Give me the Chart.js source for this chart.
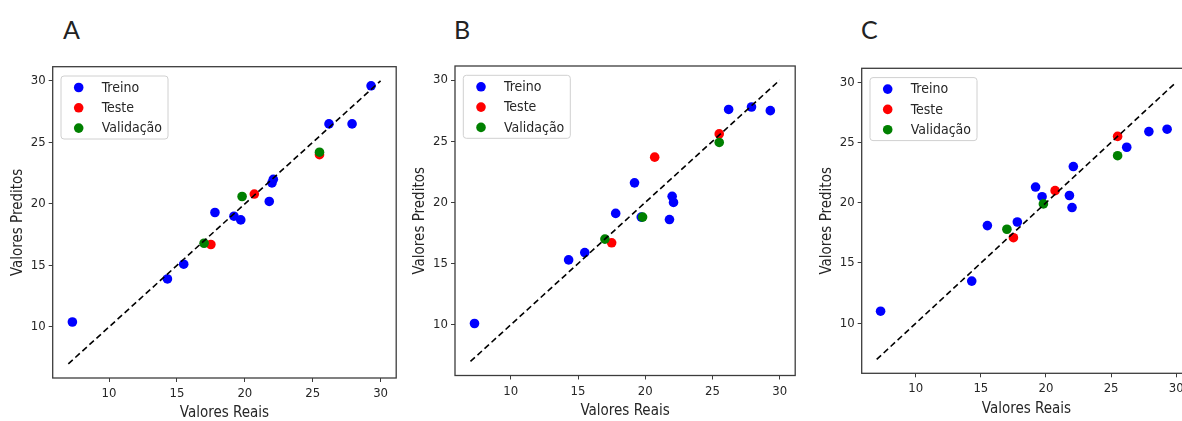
<!DOCTYPE html>
<html>
<head>
<meta charset="utf-8">
<script src="https://cdn.jsdelivr.net/npm/chart.js@4/dist/chart.umd.min.js"></script>
<style>
	body { margin: 0; background: #fff; overflow: hidden; }
	#tela { position: relative; width: 1182px; height: 421px; overflow: hidden; background: #fff; }
	.letra { position: absolute; font-family: Lato, "Open Sans", sans-serif; font-size: 25px; line-height: 25px; color: #222; }
	canvas { position: absolute; }
</style>
</head>
<body>
<div id="tela">
	<div class="letra" style="left:63px;top:17px">A</div>
	<div class="letra" style="left:454px;top:17px">B</div>
	<div class="letra" style="left:861px;top:17px">C</div>
	<canvas id="grafico_A"></canvas>
	<canvas id="grafico_B"></canvas>
	<canvas id="grafico_C"></canvas>
</div>
<script>
// valores reais (eixo x), iguais nos três modelos
var realTreino = [7.3, 14.3, 15.5, 17.8, 19.2, 19.7, 21.8, 22.0, 22.1, 26.2, 27.9, 29.3];
var realTeste = [17.5, 20.7, 25.5];
var realValid = [17.0, 19.8, 25.5];

// valores preditos de cada modelo
var predA_treino = [10.4, 13.9, 15.1, 19.3, 19.0, 18.7, 20.2, 21.7, 22.0, 26.5, 26.5, 29.6];
var predA_teste = [16.7, 20.8, 24.0];
var predA_valid = [16.8, 20.6, 24.2];

var predB_treino = [10.1, 15.3, 15.9, 19.1, 21.6, 18.8, 18.6, 20.5, 20.0, 27.6, 27.8, 27.5];
var predB_teste = [16.7, 23.7, 25.6];
var predB_valid = [17.0, 18.8, 24.9];

var predC_treino = [11.0, 13.5, 18.1, 18.4, 21.3, 20.5, 20.6, 19.6, 23.0, 24.6, 25.9, 26.1];
var predC_teste = [17.1, 21.0, 25.5];
var predC_valid = [17.8, 19.9, 23.9];

// reta de referência y = x
var linha = [7, 30];

var ticksX = [10, 15, 20, 25, 30];
var ticksY = [10, 15, 20, 25, 30];

var fonte = '"DejaVu Sans Condensed", "Liberation Sans Narrow", "DejaVu Sans", sans-serif';
var corTexto = "#262626";
var corEixo = "#3c3c3c";

function limites(valores) {
	var lo = Math.min.apply(null, valores);
	var hi = Math.max.apply(null, valores);
	var m = (hi - lo) * 0.05;
	return [lo - m, hi + m];
}

function pontos(xs, ys) {
	return xs.map(function (x, i) {
		return { x: x, y: ys[i] };
	});
}

// contorno completo da área do gráfico
var pluginCaixa = {
	id: "caixa",
	afterDatasetsDraw: function (chart) {
		var a = chart.chartArea;
		var ctx = chart.ctx;
		ctx.save();
		ctx.strokeStyle = corEixo;
		ctx.lineWidth = 1.3;
		ctx.strokeRect(a.left, a.top, a.right - a.left, a.bottom - a.top);
		ctx.restore();
	},
};

// legenda dentro da área, canto superior esquerdo
var pluginLegenda = {
	id: "legendaInterna",
	afterDraw: function (chart) {
		var a = chart.chartArea;
		var ctx = chart.ctx;
		var itens = chart.data.datasets.filter(function (ds) {
			return ds.type !== "line";
		});
		ctx.save();
		ctx.font = "14px " + fonte;
		var maior = 0;
		itens.forEach(function (ds) {
			maior = Math.max(maior, ctx.measureText(ds.label).width);
		});
		var bx = a.left + 8.3;
		var by = a.top + 9.3;
		var bw = 49 - 8.3 + maior + 6;
		var bh = 63;
		ctx.fillStyle = "rgba(255,255,255,0.85)";
		ctx.strokeStyle = "#d0d0d0";
		ctx.lineWidth = 1;
		ctx.beginPath();
		ctx.roundRect(bx, by, bw, bh, 3);
		ctx.fill();
		ctx.stroke();
		itens.forEach(function (ds, i) {
			var y = a.top + 20.8 + i * 20.3;
			ctx.fillStyle = ds.backgroundColor;
			ctx.beginPath();
			ctx.arc(a.left + 26, y, 4.8, 0, Math.PI * 2);
			ctx.fill();
			ctx.fillStyle = corTexto;
			ctx.textBaseline = "middle";
			ctx.textAlign = "left";
			ctx.fillText(ds.label, a.left + 49, y + 0.5);
		});
		ctx.restore();
	},
};

function criarGrafico(id, caixa, predTreino, predTeste, predValid) {
	var canvas = document.getElementById(id);
	var esq = Math.round(caixa.left - 52);
	var topo = 50;
	var larg = Math.ceil(caixa.right + 4) - esq;
	var alt = Math.ceil(caixa.bottom + 44) - topo;
	canvas.width = larg;
	canvas.height = alt;
	canvas.style.left = esq + "px";
	canvas.style.top = topo + "px";
	canvas.style.width = larg + "px";
	canvas.style.height = alt + "px";

	var larguraY = caixa.left - esq;
	var alturaX = topo + alt - caixa.bottom;

	var limX = limites(realTreino.concat(realTeste, realValid, linha));
	var limY = limites(predTreino.concat(predTeste, predValid, linha));

	var config = {
		type: "scatter",
		data: {
			datasets: [
				{
					type: "line",
					label: "y = x",
					data: pontos(linha, linha),
					borderColor: "#000",
					borderWidth: 1.6,
					borderDash: [6, 3.5],
					pointRadius: 0,
					fill: false,
					order: 0,
				},
				{
					label: "Treino",
					data: pontos(realTreino, predTreino),
					backgroundColor: "#0000ff",
					borderWidth: 0,
					pointRadius: 4.8,
					order: 3,
				},
				{
					label: "Teste",
					data: pontos(realTeste, predTeste),
					backgroundColor: "#ff0000",
					borderWidth: 0,
					pointRadius: 4.8,
					order: 2,
				},
				{
					label: "Validação",
					data: pontos(realValid, predValid),
					backgroundColor: "#008000",
					borderWidth: 0,
					pointRadius: 4.8,
					order: 1,
				},
			],
		},
		options: {
			responsive: false,
			animation: false,
			events: [],
			layout: {
				padding: {
					left: 0,
					top: caixa.top - topo,
					right: esq + larg - caixa.right,
					bottom: 0,
				},
			},
			scales: {
				x: {
					type: "linear",
					min: limX[0],
					max: limX[1],
					afterBuildTicks: function (scale) {
						scale.ticks = ticksX.map(function (v) {
							return { value: v };
						});
					},
					afterFit: function (scale) {
						scale.height = alturaX;
					},
					border: { display: false },
					grid: { drawOnChartArea: false, drawTicks: true, tickLength: 4, color: corEixo },
					ticks: { color: corTexto, font: { family: fonte, size: 13 }, padding: 4, maxRotation: 0 },
					title: {
						display: true,
						text: "Valores Reais",
						color: corTexto,
						font: { family: fonte, size: 15 },
						padding: { top: 0, bottom: 0 },
					},
				},
				y: {
					type: "linear",
					min: limY[0],
					max: limY[1],
					afterBuildTicks: function (scale) {
						scale.ticks = ticksY.map(function (v) {
							return { value: v };
						});
					},
					afterFit: function (scale) {
						scale.width = larguraY;
					},
					border: { display: false },
					grid: { drawOnChartArea: false, drawTicks: true, tickLength: 4, color: corEixo },
					ticks: { color: corTexto, font: { family: fonte, size: 13 }, padding: 3 },
					title: {
						display: true,
						text: "Valores Preditos",
						color: corTexto,
						font: { family: fonte, size: 15 },
						padding: { top: 8, bottom: 0 },
					},
				},
			},
			plugins: {
				legend: { display: false },
				tooltip: { enabled: false },
			},
		},
		plugins: [pluginCaixa, pluginLegenda],
	};

	return new Chart(canvas, config);
}

criarGrafico("grafico_A", { left: 52.7, top: 66.7, right: 396.7, bottom: 378 }, predA_treino, predA_teste, predA_valid);
criarGrafico("grafico_B", { left: 455, top: 66, right: 795.3, bottom: 375.5 }, predB_treino, predB_teste, predB_valid);
criarGrafico("grafico_C", { left: 861.7, top: 68.3, right: 1191.7, bottom: 373.3 }, predC_treino, predC_teste, predC_valid);
</script>
</body>
</html>
